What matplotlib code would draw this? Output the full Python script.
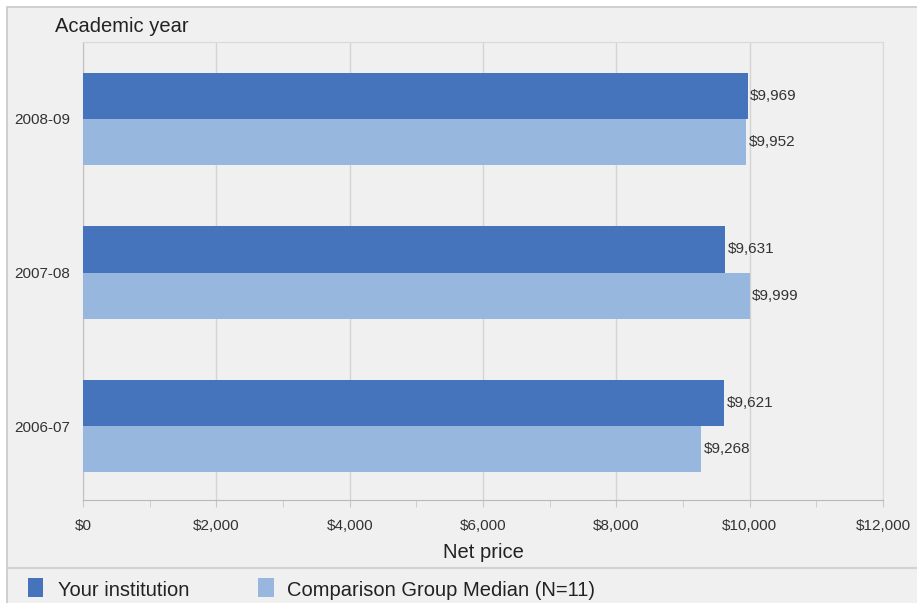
import matplotlib.pyplot as plt
import numpy as np
from matplotlib.lines import Line2D
from matplotlib.patches import Rectangle
from matplotlib.ticker import FuncFormatter, MultipleLocator

years = ['2006-07', '2007-08', '2008-09']
your_institution = [9621, 9631, 9969]
comparison_median = [9268, 9999, 9952]

DARK = '#4674bc'
LIGHT = '#97b7de'
BG = '#f0f0f0'

plt.rcParams['font.family'] = ['Liberation Sans', 'DejaVu Sans']

W, H = 917, 603
fig = plt.figure(figsize=(W / 100, H / 100), dpi=100)
fig.patch.set_facecolor('white')

# light grey panel with a thin frame on the top and left
fig.add_artist(Rectangle((7 / W, -0.05), 1.1, (H - 7) / H + 0.05, transform=fig.transFigure,
                         facecolor=BG, edgecolor='#c8c8c8', linewidth=1.2, zorder=0))
# separator above the legend
fig.add_artist(Line2D([8 / W, 1.0], [1 - 568 / H] * 2, transform=fig.transFigure,
                      color='#d2d2d2', linewidth=1.5))

ax = fig.add_axes([83 / W, 103 / H, 800 / W, 458 / H])
ax.set_facecolor(BG)

y = np.arange(len(years))
h = 0.3
ax.barh(y + h / 2, your_institution, height=h, color=DARK, zorder=3)
ax.barh(y - h / 2, comparison_median, height=h, color=LIGHT, zorder=3)

for yi, v1, v2 in zip(y, your_institution, comparison_median):
    ax.text(v1 + 40, yi + h / 2, f'${v1:,}', va='center', ha='left', fontsize=11, color='#333333')
    ax.text(v2 + 40, yi - h / 2, f'${v2:,}', va='center', ha='left', fontsize=11, color='#333333')

ax.set_xlim(0, 12000)
ax.set_ylim(-0.48, 2.5)
ax.xaxis.set_major_locator(MultipleLocator(2000))
ax.xaxis.set_minor_locator(MultipleLocator(1000))
ax.xaxis.set_major_formatter(FuncFormatter(lambda v, p: f'${int(v):,}'))
ax.grid(axis='x', which='major', color='#d4d4d4', linewidth=1, zorder=0)
ax.tick_params(axis='x', which='both', direction='out', length=5, color='#c8c8c8',
               labelsize=11, labelcolor='#333333', pad=9)
ax.tick_params(axis='y', length=0, labelsize=11, labelcolor='#333333', pad=9)
ax.set_yticks(y)
ax.set_yticklabels(years)

for side in ['top', 'right']:
    ax.spines[side].set_color('#dadada')
ax.spines['left'].set_color('#c0c0c0')
ax.spines['bottom'].set_color('#b8b8b8')

ax.set_xlabel('Net price', fontsize=14.5, color='#222222', labelpad=7)
fig.text(55 / W, 1 - 27 / H, 'Academic year', fontsize=14.5, color='#222222', va='center')

# legend drawn manually along the bottom strip
ly = 1 - 590 / H
fig.add_artist(Rectangle((28 / W, 1 - 597 / H), 15 / W, 19 / H,
                         transform=fig.transFigure, facecolor=DARK, edgecolor='none'))
fig.text(58 / W, ly, 'Your institution', fontsize=14.5, color='#222222', va='center')
fig.add_artist(Rectangle((258 / W, 1 - 597 / H), 16 / W, 19 / H,
                         transform=fig.transFigure, facecolor=LIGHT, edgecolor='none'))
fig.text(287 / W, ly, 'Comparison Group Median (N=11)', fontsize=14.5, color='#222222', va='center')

plt.savefig('out.png', dpi=100, facecolor=fig.get_facecolor())
